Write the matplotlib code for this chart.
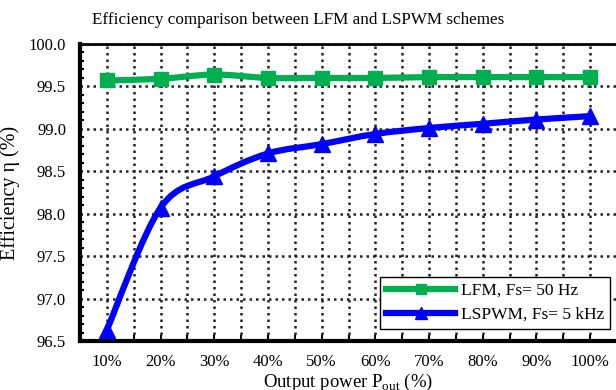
import numpy as np
import matplotlib
matplotlib.use("Agg")
import matplotlib.pyplot as plt
from matplotlib.path import Path
from matplotlib.patches import PathPatch
from matplotlib.ticker import MultipleLocator

plt.rcParams['font.family'] = ['Liberation Serif', 'DejaVu Serif']
plt.rcParams['mathtext.fontset'] = 'custom'
plt.rcParams['mathtext.rm'] = 'Liberation Serif'

# datos
potencia = ['10%', '20%', '30%', '40%', '50%', '60%', '70%', '80%', '90%', '100%']
lfm = [99.57, 99.59, 99.64, 99.60, 99.60, 99.60, 99.61, 99.61, 99.61, 99.61]
lspwm = [96.63, 98.07, 98.44, 98.71, 98.82, 98.94, 99.01, 99.06, 99.11, 99.15]
y_ticks = [96.5, 97.0, 97.5, 98.0, 98.5, 99.0, 99.5, 100.0]


def curva_suave(ax, x, y, color, lw):
    # curva tipo Excel (Catmull-Rom -> Bezier) dibujada en coordenadas de datos
    x = np.asarray(x, float)
    y = np.asarray(y, float)
    verts = [(x[0], y[0])]
    codes = [Path.MOVETO]
    t = 1 / 6
    for i in range(len(x) - 1):
        x0, y0 = (x[i - 1], y[i - 1]) if i > 0 else (x[i], y[i])
        x3, y3 = (x[i + 2], y[i + 2]) if i + 2 < len(x) else (x[i + 1], y[i + 1])
        c1 = (x[i] + (x[i + 1] - x0) * t, y[i] + (y[i + 1] - y0) * t)
        c2 = (x[i + 1] - (x3 - x[i]) * t, y[i + 1] - (y3 - y[i]) * t)
        verts += [c1, c2, (x[i + 1], y[i + 1])]
        codes += [Path.CURVE4] * 3
    ax.add_patch(PathPatch(Path(verts, codes), fill=False, edgecolor=color,
                           lw=lw, capstyle='round', joinstyle='round', zorder=3))


fig = plt.figure(figsize=(6.16, 3.9), dpi=100)
ax = fig.add_axes([80 / 616, 49 / 390, 537 / 616, 297 / 390])

x = np.arange(1, len(potencia) + 1)
verde = '#00B050'
azul = '#0000FF'

curva_suave(ax, x, lfm, verde, 4.5)
curva_suave(ax, x, lspwm, azul, 4.5)
ax.plot(x, lfm, linestyle='none', marker='s', ms=10, color=verde, zorder=4)
ax.plot(x, lspwm, linestyle='none', marker='^', ms=11, color=azul, zorder=4)

# elementos de leyenda
h1, = ax.plot([], [], color=verde, lw=4.5, marker='s', ms=7, label='LFM, Fs= 50 Hz')
h2, = ax.plot([], [], color=azul, lw=4.5, marker='^', ms=8, label='LSPWM, Fs= 5 kHz')

ax.set_xlim(0.5, len(potencia) + 0.5)
ax.set_ylim(96.5, 100.0)
ax.set_xticks(x)
ax.set_xticklabels(potencia, fontsize=12)
ax.xaxis.set_minor_locator(MultipleLocator(0.5))
ax.set_yticks(y_ticks)
ax.set_yticklabels([f'{v:.1f}' for v in y_ticks], fontsize=12)
ax.yaxis.set_minor_locator(MultipleLocator(0.1))

ax.tick_params(axis='x', which='both', direction='in', length=4, width=1.5, pad=9)
ax.tick_params(axis='y', which='major', direction='in', length=0, pad=10)
ax.tick_params(axis='y', which='minor', direction='in', length=3, width=1.5)

ax.grid(True, which='major', axis='both', color='#222222', linestyle=(0, (1, 1.6)), lw=1.8)
ax.grid(True, which='minor', axis='x', color='#222222', linestyle=(0, (1, 1.6)), lw=1.8)
ax.set_axisbelow(True)

for lado in ['left', 'bottom']:
    ax.spines[lado].set_linewidth(3)
ax.spines['top'].set_linewidth(2)
ax.spines['right'].set_visible(False)

ax.set_ylabel('Efficiency η (%)', fontsize=14.5, labelpad=6)
ax.set_xlabel('Output power P$_{\\mathrm{out}}$ (%)', fontsize=13.5, labelpad=2)
fig.text(298 / 616, 1 - 20 / 390, 'Efficiency comparison between LFM and LSPWM schemes',
         ha='center', va='center', fontsize=12.3)

leg = ax.legend(handles=[h1, h2], loc='lower right', bbox_to_anchor=(610 / 616, 61 / 390),
                bbox_transform=fig.transFigure, fontsize=12.5, handlelength=4.0,
                fancybox=False, framealpha=1, edgecolor='black', borderpad=0.35,
                labelspacing=0.45, handletextpad=0.3, borderaxespad=0)
leg.get_frame().set_linewidth(1)

fig.savefig('out.png', dpi=100)
